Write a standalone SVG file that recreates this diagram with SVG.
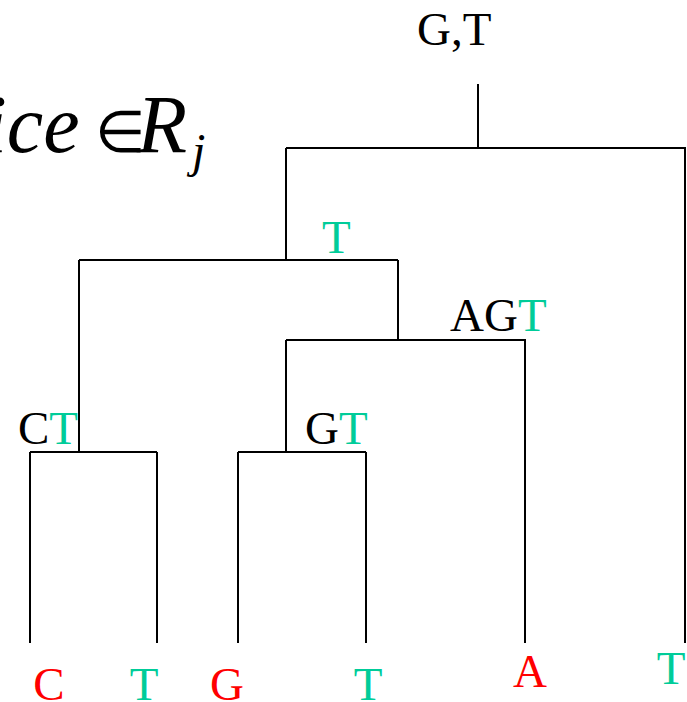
<svg xmlns="http://www.w3.org/2000/svg" width="687" height="702" viewBox="0 0 687 702">
<style>
.ln{stroke:#000;stroke-width:2;fill:none}
.lb{font-family:"Liberation Serif","Times New Roman",serif;font-size:47px;fill:#000}
.g{fill:#00CC99}
.r{fill:#FF0000}
.m{font-family:"Liberation Serif","Times New Roman",serif;font-style:italic;fill:#000}
</style>
<rect width="687" height="702" fill="#fff"/>
<g id="formula">
<text class="m" x="-16" y="152" font-size="82">ice</text>
<text x="95" y="152" font-family="Liberation Serif, serif" font-size="58">∈</text>
<text class="m" x="137" y="152" font-size="82">R</text>
<text class="m" x="192" y="167" font-size="48">j</text>
</g>
<g id="connectors">
<path class="ln" d="M478,84V148M286,148H685V643M286,148V260M79,260H398M79,260V452M398,260V340M286,340H525V643M286,340V452M30,452H157M30,452V643M157,452V643M238,452H366M238,452V643M366,452V643"/>
</g>
<g id="root"><text class="lb" x="417" y="45">G,T</text></g>
<g id="n1"><text class="lb g" x="322" y="253">T</text></g>
<g id="n2"><text class="lb" x="450" y="331">AG<tspan class="g">T</tspan></text></g>
<g id="n3"><text class="lb" x="18" y="444">C<tspan class="g">T</tspan></text></g>
<g id="n4"><text class="lb" x="305" y="444">G<tspan class="g">T</tspan></text></g>
<g id="leafC"><text class="lb r" x="49" y="700" text-anchor="middle">C</text></g>
<g id="leafT1"><text class="lb g" x="144" y="700" text-anchor="middle">T</text></g>
<g id="leafG"><text class="lb r" x="227" y="700" text-anchor="middle">G</text></g>
<g id="leafT2"><text class="lb g" x="368" y="700" text-anchor="middle">T</text></g>
<g id="leafA"><text class="lb r" x="530" y="687" text-anchor="middle">A</text></g>
<g id="leafT3"><text class="lb g" x="671" y="684" text-anchor="middle">T</text></g>
</svg>
